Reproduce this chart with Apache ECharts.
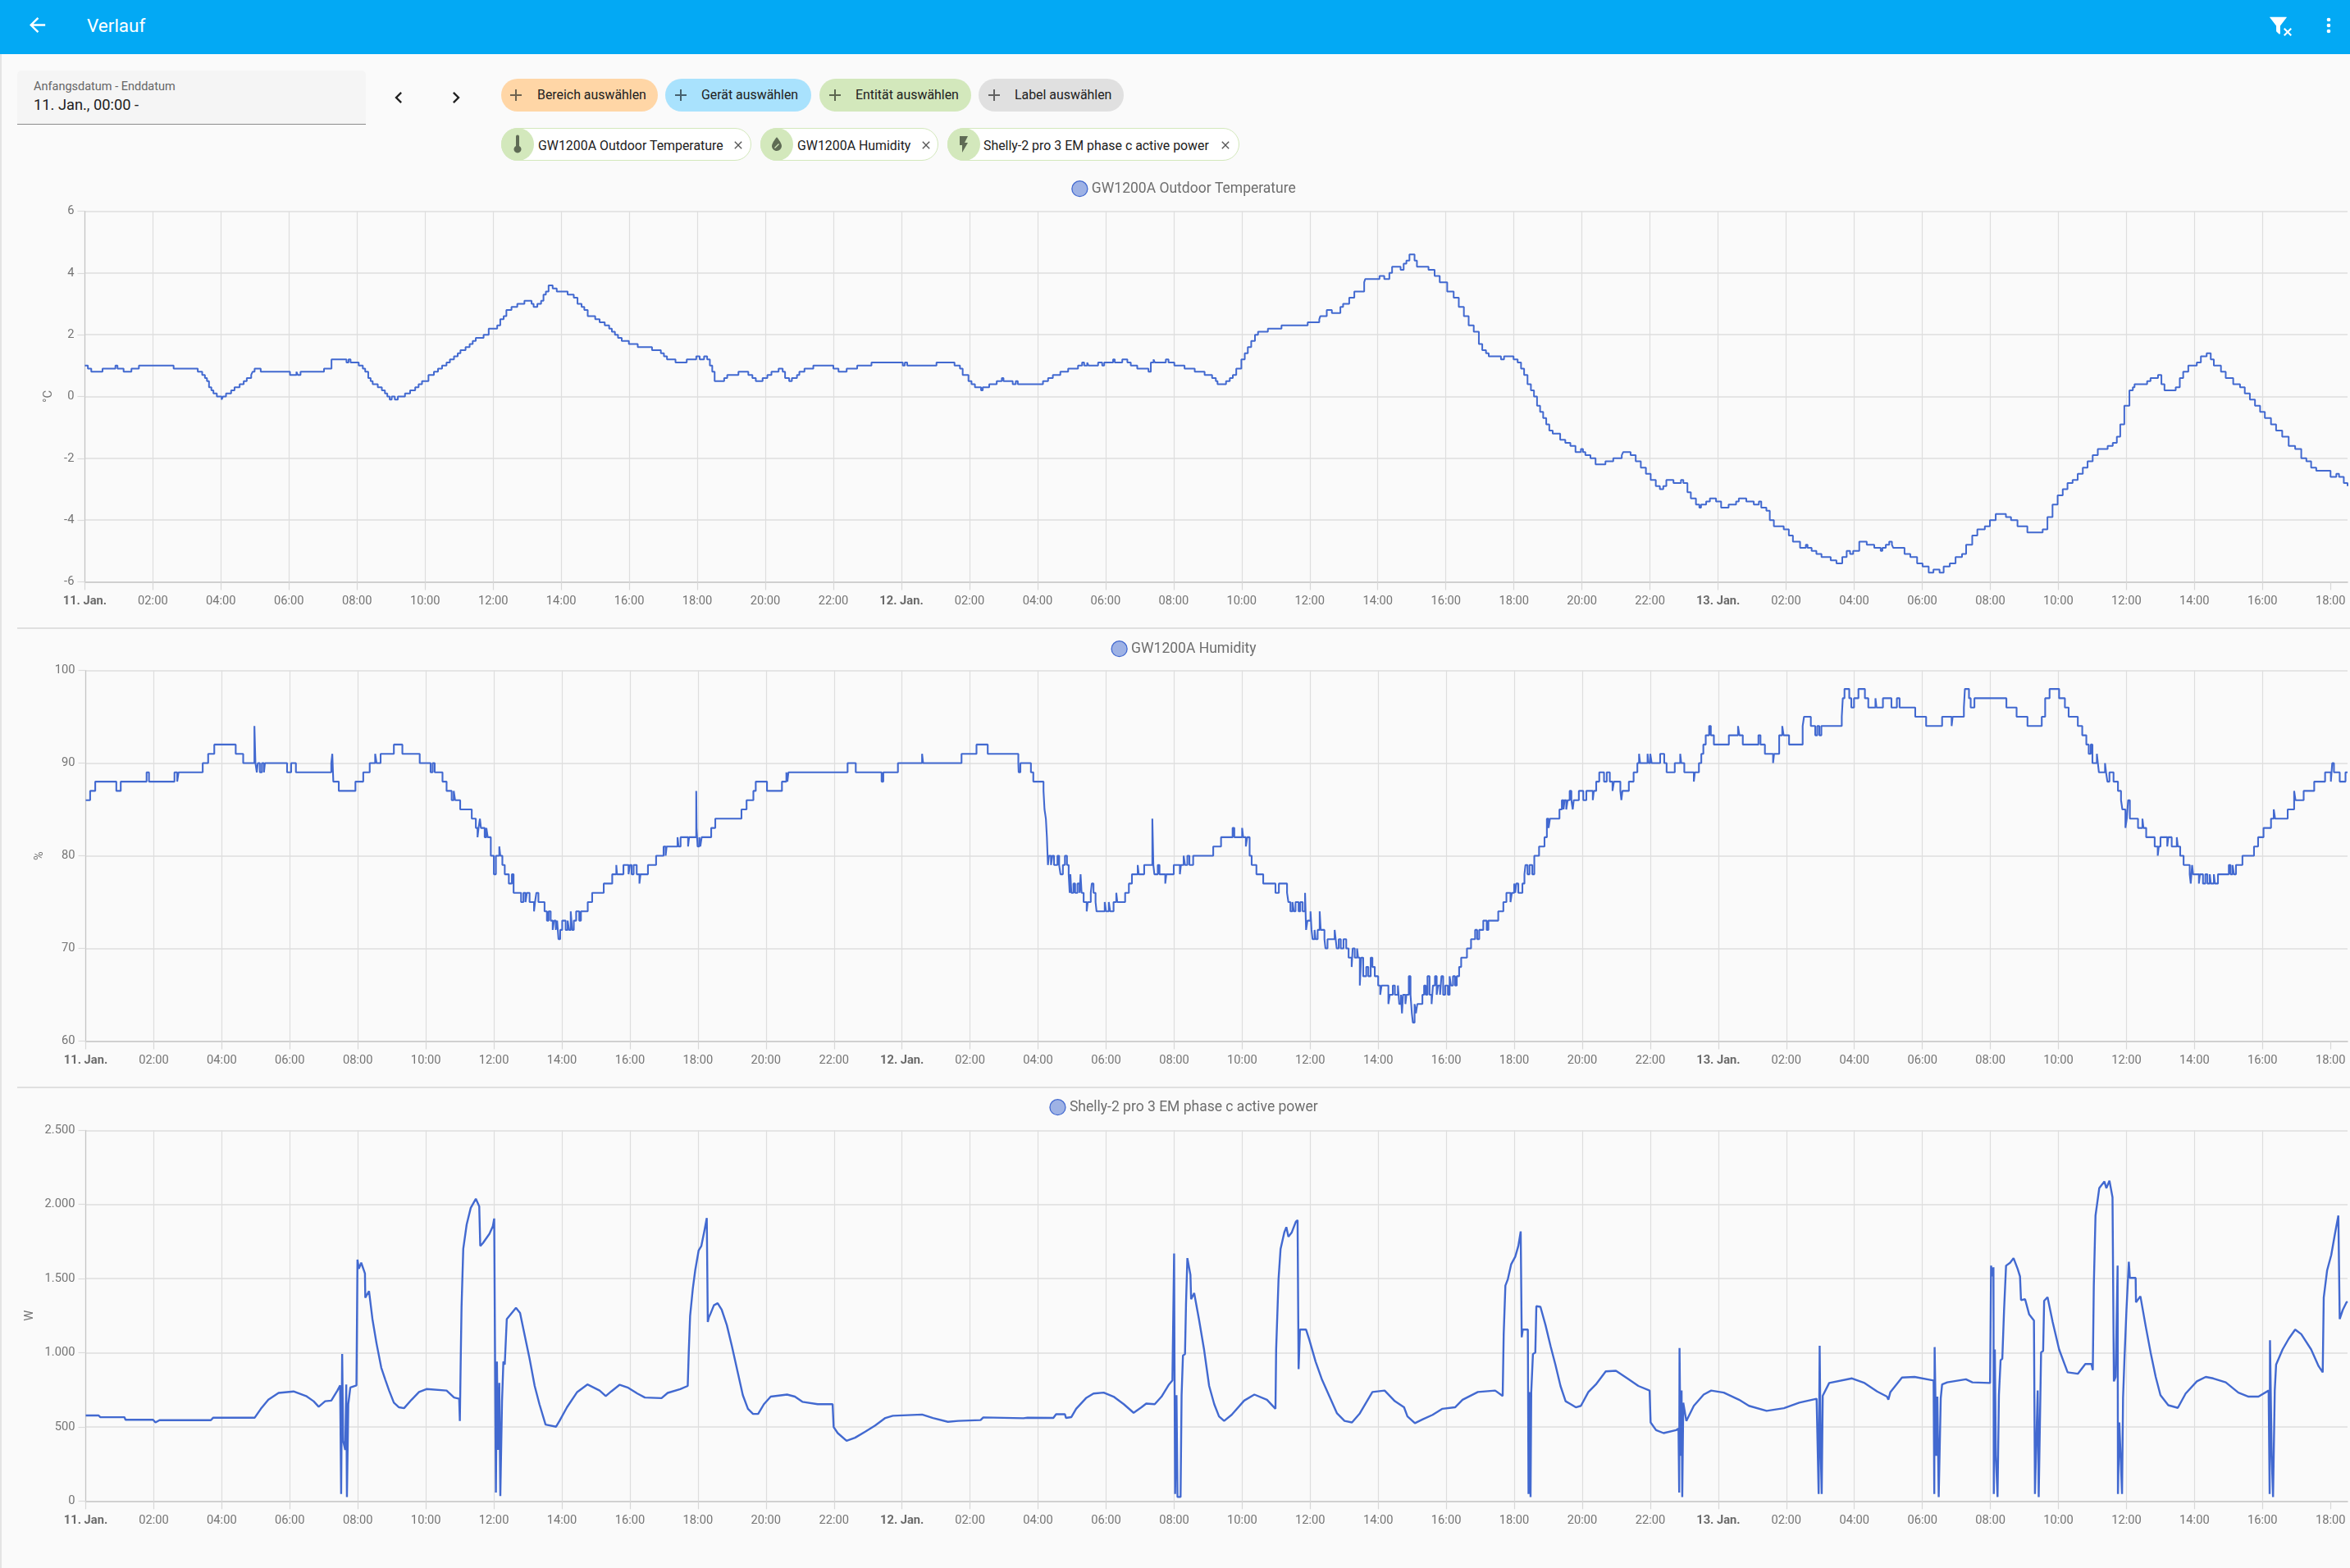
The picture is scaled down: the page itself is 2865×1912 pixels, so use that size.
<!DOCTYPE html>
<html lang="de">
<head>
<meta charset="utf-8">
<title>Verlauf</title>
<script src="https://cdn.jsdelivr.net/npm/echarts@6/dist/echarts.min.js"></script>
<style>
html,body{margin:0;padding:0;width:2865px;height:1912px;background:#fafafa;overflow:hidden;font-family:Roboto,sans-serif;}
.abs{position:absolute;}
#edge{left:0;top:66px;width:1.5px;height:1846px;background:#e4e4e4;}
#bar{left:0;top:0;width:2865px;height:66px;background:#03a9f4;}
#title{left:106px;top:16px;font-size:22.5px;line-height:30px;color:#fff;}
svg{display:block;}
#date{left:21px;top:86px;width:425px;height:65px;background:#f5f5f5;border-bottom:1.5px solid #8c8c8c;border-radius:5px 5px 0 0;}
#dateLabel{left:41px;top:97px;font-size:14.5px;line-height:18px;color:#666;}
#dateValue{left:41px;top:116px;font-size:18.3px;line-height:24px;color:#212121;}
.chip{height:40px;border-radius:20px;box-sizing:border-box;font-size:15.9px;line-height:40px;color:#212121;white-space:nowrap;}
.ent{background:#fff;border:1.5px solid #d3e8bc;line-height:37px;}
.ava{width:40px;height:40px;border-radius:20px;background:#d3e8bc;}
.divider{left:21px;width:2844px;height:2px;background:#e0e0e0;}
#chart{left:21px;top:0;width:2844px;height:1912px;}
</style>
</head>
<body>
<div class="abs" id="edge"></div>
<div class="abs" id="bar"></div>
<svg class="abs" style="left:31px;top:16px" width="29" height="29" viewBox="0 0 24 24"><path fill="#fff" d="M20,11V13H8L13.5,18.5L12.08,19.92L4.16,12L12.08,4.08L13.5,5.5L8,11H20Z"/></svg>
<div class="abs" id="title">Verlauf</div>
<svg class="abs" style="left:2763px;top:17px" width="29" height="29" viewBox="0 0 24 24"><path fill="#fff" d="M14,12V19.5C14,20.2 13.5,20.7 12.9,20.2L10.4,18C10.1,17.8 10,17.5 10,17.2V12L3.5,3.6C3.2,3.2 3.4,3 3.9,3H20.1C20.6,3 20.8,3.2 20.5,3.6L14,12Z"/></svg>
<svg class="abs" style="left:2783px;top:33px" width="12" height="12" viewBox="0 0 24 24"><path fill="#fff" d="M22,5L19,2L12,9L5,2L2,5L9,12L2,19L5,22L12,15L19,22L22,19L15,12Z"/></svg>
<svg class="abs" style="left:2825px;top:17px" width="28" height="28" viewBox="0 0 24 24"><path fill="#fff" d="M12,16A2,2 0 0,1 14,18A2,2 0 0,1 12,20A2,2 0 0,1 10,18A2,2 0 0,1 12,16M12,10A2,2 0 0,1 14,12A2,2 0 0,1 12,14A2,2 0 0,1 10,12A2,2 0 0,1 12,10M12,4A2,2 0 0,1 14,6A2,2 0 0,1 12,8A2,2 0 0,1 10,6A2,2 0 0,1 12,4Z"/></svg>

<div class="abs" id="date"></div>
<div class="abs" id="dateLabel">Anfangsdatum - Enddatum</div>
<div class="abs" id="dateValue">11. Jan., 00:00 -</div>
<svg class="abs" style="left:472px;top:105px" width="28" height="28" viewBox="0 0 24 24"><path fill="#212121" d="M15.41,16.58L10.83,12L15.41,7.41L14,6L8,12L14,18L15.41,16.58Z"/></svg>
<svg class="abs" style="left:542px;top:105px" width="28" height="28" viewBox="0 0 24 24"><path fill="#212121" d="M8.59,16.58L13.17,12L8.59,7.41L10,6L16,12L10,18L8.59,16.58Z"/></svg>

<div class="abs chip" style="left:611px;top:96px;width:191px;background:#ffd6a6"><span class="abs" style="left:44px;top:0">Bereich auswählen</span></div>
<div class="abs chip" style="left:811px;top:96px;width:178px;background:#a9e2fd"><span class="abs" style="left:44px;top:0">Gerät auswählen</span></div>
<div class="abs chip" style="left:999px;top:96px;width:185px;background:#d3e8bc"><span class="abs" style="left:44px;top:0">Entität auswählen</span></div>
<div class="abs chip" style="left:1193px;top:96px;width:177px;background:#e0e0e0"><span class="abs" style="left:44px;top:0">Label auswählen</span></div>
<svg class="abs" style="left:617px;top:104px" width="24" height="24" viewBox="0 0 24 24"><path fill="#6d6250" d="M19,13H13V19H11V13H5V11H11V5H13V11H19V13Z"/></svg>
<svg class="abs" style="left:818px;top:104px" width="24" height="24" viewBox="0 0 24 24"><path fill="#46606d" d="M19,13H13V19H11V13H5V11H11V5H13V11H19V13Z"/></svg>
<svg class="abs" style="left:1006px;top:104px" width="24" height="24" viewBox="0 0 24 24"><path fill="#5c6650" d="M19,13H13V19H11V13H5V11H11V5H13V11H19V13Z"/></svg>
<svg class="abs" style="left:1200px;top:104px" width="24" height="24" viewBox="0 0 24 24"><path fill="#616161" d="M19,13H13V19H11V13H5V11H11V5H13V11H19V13Z"/></svg>

<div class="abs chip ent" style="left:611px;top:156px;width:305px"><span class="abs" style="left:44px;top:1.5px">GW1200A Outdoor Temperature</span></div>
<div class="abs chip ent" style="left:927px;top:156px;width:217px"><span class="abs" style="left:44px;top:1.5px">GW1200A Humidity</span></div>
<div class="abs chip ent" style="left:1155px;top:156px;width:356px"><span class="abs" style="left:43px;top:1.5px">Shelly-2 pro 3 EM phase c active power</span></div>
<div class="abs ava" style="left:611px;top:156px"></div>
<div class="abs ava" style="left:927px;top:156px"></div>
<div class="abs ava" style="left:1155px;top:156px"></div>
<svg class="abs" style="left:619px;top:164px" width="24" height="24" viewBox="0 0 24 24"><path fill="#5f6b55" d="M10,2.5A2,2 0 0,1 14,2.5V14A4.5,4.5 0 1,1 10,14Z"/></svg>
<svg class="abs" style="left:935px;top:164px" width="24" height="24" viewBox="0 0 24 24"><path fill="#5f6b55" d="M12,3.25C12,3.25 6,10 6,14C6,17.32 8.69,20 12,20A6,6 0 0,0 18,14C18,10 12,3.25 12,3.25Z"/><path stroke="#d3e8bc" stroke-width="1.2" d="M9.5,16.5L14.5,11.5"/></svg>
<svg class="abs" style="left:1163px;top:164px" width="24" height="24" viewBox="0 0 24 24"><path fill="#5f6b55" d="M7,2V13H10V22L17,10H13L17,2H7Z"/></svg>
<svg class="abs" style="left:892px;top:169px" width="16" height="16" viewBox="0 0 24 24"><path fill="#555" d="M19,6.41L17.59,5L12,10.59L6.41,5L5,6.41L10.59,12L5,17.59L6.41,19L12,13.41L17.59,19L19,17.59L13.41,12L19,6.41Z"/></svg>
<svg class="abs" style="left:1121px;top:169px" width="16" height="16" viewBox="0 0 24 24"><path fill="#555" d="M19,6.41L17.59,5L12,10.59L6.41,5L5,6.41L10.59,12L5,17.59L6.41,19L12,13.41L17.59,19L19,17.59L13.41,12L19,6.41Z"/></svg>
<svg class="abs" style="left:1486px;top:169px" width="16" height="16" viewBox="0 0 24 24"><path fill="#555" d="M19,6.41L17.59,5L12,10.59L6.41,5L5,6.41L10.59,12L5,17.59L6.41,19L12,13.41L17.59,19L19,17.59L13.41,12L19,6.41Z"/></svg>

<div class="abs divider" style="top:765px"></div>
<div class="abs divider" style="top:1325px"></div>
<div class="abs" id="chart"></div>

<script>
// Names and labels
const seriesNames = ['GW1200A Outdoor Temperature', 'GW1200A Humidity', 'Shelly-2 pro 3 EM phase c active power'];
const unitNames = ['°C', '%', 'W'];
const dayLabels = ['11. Jan.', '12. Jan.', '13. Jan.'];

// Hours since 11 Jan 00:00, value
const temperaturePoints = [
[0,1],[.09,.9],[.19,.8],[.52,.9],[.9,1],[.96,.9],[1.14,.8],[1.37,.9],[1.59,1],[2.61,.9],[3.32,.8],[3.45,.7],[3.53,.6],[3.59,.5],[3.65,.3],[3.72,.2],[3.78,.1],[3.88,0],[4.02,-.1],[4.06,0],[4.15,.1],[4.3,.2],[4.4,.3],[4.55,.4],[4.67,.5],[4.76,.6],[4.89,.7],[4.93,.8],[4.99,.9],[5.17,.8],[6.03,.7],[6.22,.8],[6.26,.7],[6.34,.8],[7.03,.9],[7.25,1.2],[7.69,1.1],[7.75,1.2],[7.81,1.1],[8.05,1],[8.17,.9],[8.24,.8],[8.33,.6],[8.4,.5],[8.46,.4],[8.61,.3],[8.73,.2],[8.82,.1],[8.89,0],[8.96,-.1],[9.02,0],[9.11,-.1],[9.2,0],[9.41,.1],[9.56,.2],[9.71,.3],[9.81,.4],[9.91,.5],[10.1,.7],[10.26,.8],[10.38,.9],[10.5,1],[10.63,1.1],[10.73,1.2],[10.85,1.3],[10.96,1.4],[11.04,1.5],[11.19,1.6],[11.31,1.7],[11.4,1.8],[11.49,1.9],[11.72,2],[11.87,2.2],[12.12,2.3],[12.21,2.5],[12.31,2.6],[12.39,2.8],[12.54,2.9],[12.71,3],[12.92,3.1],[13.13,3],[13.19,2.9],[13.3,3],[13.41,3.1],[13.48,3.3],[13.55,3.4],[13.63,3.6],[13.75,3.5],[13.87,3.4],[14.19,3.3],[14.37,3.2],[14.48,3],[14.6,2.9],[14.68,2.8],[14.78,2.6],[15,2.5],[15.13,2.4],[15.28,2.3],[15.41,2.2],[15.49,2.1],[15.58,2],[15.67,1.9],[15.78,1.8],[15.99,1.7],[16.25,1.6],[16.67,1.5],[16.93,1.4],[17.02,1.3],[17.11,1.2],[17.36,1.1],[17.69,1.2],[17.97,1.3],[18.07,1.2],[18.2,1.3],[18.29,1.2],[18.37,1],[18.44,.8],[18.51,.5],[18.79,.6],[18.88,.7],[19.21,.8],[19.5,.7],[19.62,.6],[19.72,.5],[19.92,.6],[20.06,.7],[20.18,.8],[20.39,.9],[20.51,.8],[20.58,.6],
[20.7,.5],[20.78,.6],[20.93,.7],[21,.8],[21.15,.9],[21.41,1],[22,.9],[22.15,.8],[22.39,.9],[22.7,1],[23.12,1.1],[24.04,1],[24.1,1.1],[24.17,1],[25.03,1.1],[25.56,1],[25.72,.9],[25.8,.7],[25.97,.5],[26.06,.4],[26.16,.3],[26.34,.2],[26.39,.3],[26.58,.4],[26.8,.5],[26.95,.6],[27,.5],[27.27,.4],[27.36,.5],[27.42,.4],[28.16,.5],[28.31,.6],[28.45,.7],[28.67,.8],[28.9,.9],[29.19,1],[29.31,1.1],[29.37,1],[29.46,1.1],[29.5,1],[29.78,1.1],[29.9,1],[29.96,1.1],[30.22,1.2],[30.27,1.1],[30.49,1.2],[30.64,1.1],[30.74,1],[30.93,.9],[31.26,.8],[31.33,1.1],[31.41,1.2],[31.45,1.1],[31.77,1.2],[31.85,1.1],[32.02,1],[32.32,.9],[32.62,.8],[32.91,.7],[33.13,.6],[33.24,.5],[33.29,.4],[33.54,.5],[33.65,.6],[33.74,.7],[33.84,.9],[33.99,1.2],[34.09,1.4],[34.18,1.6],[34.28,1.8],[34.39,2],[34.48,2.1],[34.77,2.2],[35.17,2.3],[35.94,2.4],[36.28,2.5],[36.31,2.6],[36.5,2.8],[36.65,2.7],[36.9,2.9],[36.98,3],[37.16,3.2],[37.31,3.4],[37.6,3.7],[37.63,3.8],[38.05,3.9],[38.19,3.8],[38.34,4],[38.42,4.2],[38.67,4.1],[38.76,4.3],[38.84,4.4],[38.93,4.6],[39.08,4.4],[39.15,4.2],[39.49,4.1],[39.67,3.9],[39.82,3.7],[40.04,3.4],[40.23,3.2],[40.38,2.9],[40.53,2.6],[40.67,2.3],[40.82,2.1],[40.97,1.7],[41.07,1.5],[41.18,1.4],[41.26,1.3],[41.62,1.2],[41.71,1.3],[41.99,1.2],[42.11,1.1],[42.21,.9],[42.3,.7],[42.4,.4],[42.5,.2],[42.59,0],[42.68,-.3],[42.77,-.5],[42.86,-.7],[42.95,-.9],[43.04,-1.1],[43.14,-1.2],[43.36,-1.4],[43.51,-1.5],
[43.66,-1.6],[43.81,-1.8],[43.97,-1.7],[44.03,-1.8],[44.1,-1.9],[44.25,-2],[44.4,-2.2],[44.69,-2.1],[44.92,-2],[45.17,-1.9],[45.21,-1.8],[45.43,-1.9],[45.58,-2.1],[45.73,-2.3],[45.88,-2.5],[46.02,-2.7],[46.17,-2.9],[46.29,-3],[46.39,-2.9],[46.48,-2.7],[46.69,-2.8],[46.91,-2.7],[46.98,-2.8],[47.1,-3.1],[47.2,-3.3],[47.35,-3.5],[47.45,-3.6],[47.5,-3.5],[47.65,-3.4],[47.76,-3.3],[47.94,-3.4],[48.09,-3.6],[48.31,-3.5],[48.53,-3.4],[48.61,-3.3],[48.83,-3.4],[49.05,-3.5],[49.2,-3.4],[49.27,-3.6],[49.42,-3.7],[49.52,-4],[49.64,-4.2],[49.93,-4.3],[50.08,-4.5],[50.2,-4.7],[50.41,-4.9],[50.58,-4.8],[50.63,-4.9],[50.75,-5],[50.89,-5.1],[51.04,-5.2],[51.31,-5.3],[51.48,-5.4],[51.65,-5.2],[51.78,-5],[51.88,-5.1],[51.97,-5],[52.15,-4.7],[52.37,-4.8],[52.59,-4.9],[52.78,-5],[52.83,-4.9],[52.93,-4.8],[53.03,-4.7],[53.11,-4.8],[53.15,-4.9],[53.48,-5.1],[53.65,-5.2],[53.85,-5.4],[54.01,-5.5],[54.19,-5.7],[54.33,-5.6],[54.51,-5.7],[54.63,-5.5],[54.81,-5.4],[54.98,-5.2],[55.17,-5.1],[55.29,-4.8],[55.47,-4.5],[55.62,-4.3],[55.84,-4.2],[55.99,-4],[56.16,-3.8],[56.46,-3.9],[56.61,-4],[56.8,-4.2],[57.09,-4.4],[57.54,-4.3],[57.68,-3.9],[57.83,-3.5],[57.98,-3.2],[58.13,-3],[58.27,-2.8],[58.42,-2.7],[58.57,-2.5],[58.72,-2.3],[58.86,-2.1],[59.01,-1.9],[59.16,-1.7],[59.45,-1.6],[59.6,-1.5],[59.72,-1.3],[59.82,-.9],[59.94,-.3],[60.09,.2],[60.19,.3],[60.24,.4],[60.61,.5],[60.71,.6],[60.93,.7],[61.03,.4],[61.12,.2],[61.45,.3],[61.57,.6],[61.67,.8],[61.82,1],[62.07,1.1],[62.19,1.3],[62.36,1.4],[62.48,1.2],[62.57,1],[62.78,.8],[62.92,.6],[63.14,.4],[63.34,.3],[63.48,.1],[63.63,-.1],[63.78,-.3],[63.93,-.5],[64.07,-.7],[64.25,-.9],[64.4,-1.1],[64.58,-1.3],[64.77,-1.6],[64.96,-1.7],[65.14,-2],[65.29,-2.1],[65.43,-2.3],[65.58,-2.4],[66,-2.6],[66.17,-2.5],[66.25,-2.6],[66.39,-2.8],[66.5,-2.9]
];

const humidityPoints = [
[0,86],[.13,87],[.28,88],[.9,87],[1.03,88],[1.79,89],[1.86,88],[2.61,89],[2.69,88],[2.73,89],[3.44,90],[3.6,91],[3.78,92],[4.41,91],[4.63,90],[4.96,94],[4.99,90],[5.03,89],[5.06,90],[5.12,89],[5.18,90],[5.24,89],[5.27,90],[5.92,89],[6.04,90],[6.18,89],[7.22,90],[7.25,91],[7.28,88],[7.44,87],[7.93,88],[8.16,89],[8.35,90],[8.51,91],[8.55,90],[8.67,91],[9.06,92],[9.31,91],[9.82,90],[10.14,89],[10.2,90],[10.26,89],[10.49,88],[10.61,87],[10.76,86],[10.82,87],[10.86,86],[11.01,85],[11.35,84],[11.47,83],[11.52,82],[11.55,83],[11.59,84],[11.62,83],[11.73,82],[11.78,83],[11.82,82],[11.91,80],[12,78],[12.06,80],[12.16,81],[12.19,80],[12.25,79],[12.32,78],[12.44,77],[12.53,78],[12.58,76],[12.8,75],[12.87,76],[12.93,75],[12.97,76],[13.05,75],[13.18,74],[13.21,75],[13.25,76],[13.31,75],[13.49,74],[13.56,73],[13.61,74],[13.67,73],[13.73,72],[13.77,73],[13.82,72],[13.86,73],[13.9,71],[13.95,72],[14.01,73],[14.11,72],[14.17,73],[14.21,72],[14.26,74],[14.3,72],[14.35,73],[14.42,74],[14.51,73],[14.56,74],[14.76,75],[14.89,76],[15.23,77],[15.48,78],[15.6,79],[15.62,78],[15.81,79],[15.96,78],[16,79],[16.05,78],[16.11,79],[16.2,78],[16.28,77],[16.31,78],[16.53,79],[16.77,80],[16.99,81],[17.05,80],[17.08,81],[17.4,82],[17.43,81],[17.49,82],[17.71,81],[17.74,82],[17.95,87],[17.96,83],[17.99,81],[18.04,82],[18.07,81],[18.11,82],[18.39,83],[18.51,84],[19.28,85],[19.43,86],[19.63,87],[19.7,88],[20.03,87],[20.47,88],[20.6,89],
[20.63,88],[20.66,89],[22.4,90],[22.64,89],[23.4,88],[23.45,89],[23.88,90],[24.59,91],[24.62,90],[25.75,91],[26.19,92],[26.52,91],[27.42,90],[27.43,89],[27.48,90],[27.79,89],[27.86,88],[28.16,87],[28.19,85],[28.23,84],[28.26,82],[28.29,79],[28.32,80],[28.38,79],[28.42,80],[28.47,79],[28.57,80],[28.62,79],[28.66,78],[28.73,79],[28.79,80],[28.85,79],[28.9,78],[28.93,76],[28.95,78],[28.98,76],[29.04,77],[29.09,76],[29.16,77],[29.22,76],[29.25,78],[29.28,76],[29.34,75],[29.43,74],[29.46,75],[29.55,76],[29.58,77],[29.63,76],[29.69,75],[29.72,74],[29.96,75],[30,74],[30.08,75],[30.12,74],[30.22,75],[30.3,76],[30.33,75],[30.56,76],[30.67,77],[30.76,78],[30.93,79],[30.96,78],[31.12,79],[31.36,84],[31.39,79],[31.42,78],[31.52,79],[31.57,78],[31.74,77],[31.77,78],[31.99,79],[32.17,78],[32.2,79],[32.28,80],[32.32,79],[32.39,80],[32.45,79],[32.56,80],[33.15,81],[33.38,82],[33.72,83],[33.77,82],[34,83],[34.03,82],[34.11,81],[34.15,82],[34.22,80],[34.28,79],[34.42,78],[34.62,77],[34.98,76],[35.08,77],[35.32,76],[35.36,75],[35.42,74],[35.48,75],[35.52,74],[35.57,75],[35.66,74],[35.71,75],[35.78,74],[35.85,76],[35.88,72],[35.92,73],[36.01,74],[36.04,72],[36.07,71],[36.13,72],[36.16,71],[36.22,72],[36.28,74],[36.31,72],[36.42,71],[36.45,70],[36.51,71],[36.72,72],[36.75,71],[36.78,70],[36.84,71],[36.9,70],[36.98,71],[37.06,70],[37.13,69],[37.22,68],[37.25,70],[37.31,69],[37.38,70],[37.41,69],[37.46,66],[37.5,69],[37.56,67],[37.65,68],[37.71,67],[37.78,69],[37.83,68],[37.9,67],[38,66],[38.06,65],[38.1,66],[38.3,64],[38.34,65],[38.43,66],[38.49,65],[38.58,66],[38.62,64],[38.67,65],[38.7,63],[38.73,65],[38.8,64],[38.83,65],[38.9,67],[38.95,65],[38.99,63],[39.02,62],[39.07,64],[39.11,63],[39.15,64],[39.3,65],[39.35,66],[39.4,65],[39.45,67],[39.51,65],[39.57,64],[39.61,66],[39.67,67],[39.72,65],[39.76,66],[39.82,65],[39.86,67],[39.91,65],[39.97,66],[40.05,65],[40.1,67],[40.14,66],[40.2,67],[40.26,66],[40.31,67],[40.38,68],[40.44,69],[40.61,70],[40.73,71],[40.85,72],[40.91,71],[40.97,72],[41.09,73],[41.19,72],[41.24,73],[41.53,74],[41.68,75],[41.77,76],[41.89,75],[41.93,76],[42,77],[42.03,76],[42.06,77],[42.12,76],[42.24,77],[42.3,78],[42.33,79],[42.39,78],[42.45,79],[42.53,78],[42.59,80],[42.73,81],[42.89,82],[42.96,84],[43.01,83],[43.05,84],[43.33,85],[43.4,86],
[43.45,85],[43.48,86],[43.53,85],[43.57,86],[43.63,87],[43.68,86],[43.72,85],[43.75,86],[43.9,87],[44.03,86],[44.12,87],[44.31,86],[44.34,87],[44.41,88],[44.5,89],[44.64,88],[44.72,89],[44.81,88],[44.89,87],[44.93,88],[45.12,87],[45.15,86],[45.18,87],[45.37,88],[45.51,89],[45.62,90],[45.67,91],[45.7,90],[45.92,91],[45.95,90],[46,91],[46.04,90],[46.29,91],[46.41,90],[46.48,89],[46.72,90],[46.88,91],[46.91,90],[47,89],[47.28,88],[47.31,89],[47.43,90],[47.5,91],[47.56,92],[47.63,93],[47.73,94],[47.78,93],[47.87,92],[48.31,93],[48.58,94],[48.62,93],[48.72,92],[49.18,93],[49.24,92],[49.37,91],[49.61,90],[49.64,91],[49.79,93],[49.88,94],[49.92,93],[50.08,92],[50.48,94],[50.52,95],[50.72,94],[50.85,93],[50.91,94],[50.97,93],[51.03,94],[51.63,95],[51.66,97],[51.71,98],[51.85,97],[51.91,96],[51.99,97],[52.12,98],[52.31,97],[52.41,96],[52.62,97],[52.65,96],[52.84,97],[53.09,96],[53.25,97],[53.33,96],[53.79,95],[54.11,94],[54.58,95],[54.86,94],[54.89,95],[55.22,96],[55.25,98],[55.37,97],[55.42,96],[55.53,97],[56.47,96],[56.77,95],[57.09,94],[57.51,95],[57.61,97],[57.74,98],[58.02,97],[58.19,96],[58.3,95],[58.57,94],[58.7,93],[58.82,92],[58.89,91],[58.95,92],[59,90],[59.13,91],[59.16,90],[59.19,89],[59.37,90],[59.4,89],[59.44,88],[59.5,89],[59.62,88],[59.75,87],[59.84,86],[59.88,85],[59.97,83],[60.01,84],[60.05,86],[60.1,84],[60.34,83],[60.47,84],[60.5,83],[60.58,82],[60.83,81],[60.92,80],[60.95,81],[61,82],[61.2,81],[61.23,82],[61.33,81],[61.48,82],[61.51,81],[61.58,80],[61.68,79],[61.86,78],[61.89,77],[61.93,79],[61.96,78],[62.13,77],[62.16,78],[62.25,77],[62.32,78],[62.38,77],[62.45,78],[62.48,77],[62.57,78],[62.6,77],[62.69,78],[63.01,79],[63.06,78],[63.12,79],[63.16,78],[63.22,79],[63.41,80],[63.75,81],[63.87,82],[64.03,83],[64.25,84],[64.33,85],[64.37,84],[64.74,85],[64.93,87],[64.97,86],[65.21,87],[65.52,88],[65.84,89],[66.01,88],[66.05,90],[66.1,89],[66.27,88],[66.44,89],[66.5,89]
];

const powerPoints = [
[0,577],[.38,577],[.43,565],[1.14,565],[1.17,548],[1.98,548],[2.05,530],[2.17,545],[3.68,545],[3.75,562],[4.97,562],[5.15,622],[5.37,683],[5.67,729],[6.11,739],[6.48,708],[6.7,673],[6.85,636],[7.04,673],[7.22,677],[7.4,745],[7.48,780],[7.51,47],[7.54,991],[7.57,406],[7.63,345],[7.66,786],[7.68,27],[7.72,653],[7.78,766],[7.96,780],[7.99,1628],[8.03,1566],[8.1,1607],[8.21,1535],[8.22,1371],[8.33,1416],[8.43,1227],[8.55,1063],[8.69,899],[8.81,817],[8.92,745],[9.06,663],[9.21,632],[9.36,626],[9.58,683],[9.8,735],[10.02,755],[10.61,745],[10.83,698],[10.98,690],[11,540],[11.03,1022],[11.05,1310],[11.1,1700],[11.2,1864],[11.32,1977],[11.47,2038],[11.57,1987],[11.6,1720],[11.68,1740],[11.87,1802],[11.97,1853],[12.01,1905],[12.03,1145],[12.06,57],[12.09,940],[12.12,345],[12.16,796],[12.19,33],[12.24,673],[12.28,940],[12.32,920],[12.38,1227],[12.65,1303],[12.77,1268],[12.9,1125],[13.05,960],[13.2,776],[13.34,653],[13.52,515],[13.83,501],[13.93,540],[14.15,632],[14.45,735],[14.75,786],[15.11,745],[15.29,708],[15.45,739],[15.7,784],[15.93,766],[16.22,725],[16.44,698],[16.93,694],[17.11,729],[17.48,755],[17.7,776],[17.73,1002],[17.77,1248],[17.85,1433],[17.92,1556],[18.02,1689],[18.1,1720],[18.19,1823],[18.26,1909],[18.29,1207],[18.32,1238],[18.36,1258],[18.47,1320],[18.58,1334],[18.7,1289],[18.85,1186],[19,1043],[19.18,858],[19.32,714],[19.47,622],[19.62,587],[19.77,587],[19.94,653],[20.14,704],[20.62,718],
[20.85,704],[21.07,669],[21.52,653],[21.96,653],[21.99,499],[22.11,458],[22.37,406],[22.62,427],[22.92,468],[23.21,509],[23.51,560],[23.73,575],[24.59,583],[24.91,560],[25.35,534],[25.65,540],[26.31,546],[26.39,564],[27.57,558],[27.69,562],[28.45,560],[28.53,585],[28.79,585],[28.82,560],[28.98,566],[29.12,622],[29.41,694],[29.63,725],[29.93,731],[30.22,704],[30.52,653],[30.81,595],[31.04,632],[31.18,657],[31.43,653],[31.63,704],[31.85,786],[31.95,813],[32,1669],[32.01,1002],[32.03,47],[32.07,714],[32.1,27],[32.19,27],[32.22,714],[32.26,981],[32.32,991],[32.35,1330],[32.39,1638],[32.48,1525],[32.5,1361],[32.59,1402],[32.73,1227],[32.88,1022],[33.03,776],[33.18,653],[33.32,571],[33.47,540],[33.69,581],[34.06,677],[34.36,718],[34.73,683],[34.98,622],[35,1022],[35.07,1494],[35.13,1700],[35.24,1812],[35.3,1847],[35.36,1782],[35.46,1812],[35.58,1884],[35.63,1894],[35.66,889],[35.7,1156],[35.88,1156],[35.98,1084],[36.16,940],[36.35,817],[36.57,704],[36.79,591],[37.01,540],[37.23,530],[37.46,591],[37.83,735],[38.19,745],[38.49,673],[38.76,632],[38.86,571],[39.08,525],[39.3,550],[39.6,581],[39.89,622],[40.26,632],[40.48,683],[40.93,735],[41.44,745],[41.66,708],[41.69,1125],[41.74,1453],[41.81,1494],[41.91,1597],[42.03,1648],[42.12,1720],[42.19,1818],[42.22,1104],[42.25,1156],[42.4,1156],[42.42,47],[42.45,735],[42.48,27],[42.5,735],[42.55,991],[42.62,1002],[42.65,1314],[42.77,1310],[42.92,1186],[43.07,1043],[43.21,920],[43.36,776],[43.51,673],
[43.66,653],[43.81,632],[43.96,642],[44.18,735],[44.4,786],[44.69,874],[44.99,878],[45.36,821],[45.65,776],[45.98,745],[46.01,530],[46.17,478],[46.39,458],[46.76,478],[46.83,488],[46.85,57],[46.86,1032],[46.89,304],[46.92,745],[46.94,27],[46.97,663],[47.06,540],[47.28,642],[47.57,718],[47.79,745],[48.16,731],[48.61,683],[48.9,642],[49.42,608],[49.93,626],[50.38,663],[50.89,690],[50.95,47],[50.98,1047],[51.01,345],[51.04,47],[51.07,710],[51.26,796],[51.93,827],[52.3,796],[52.67,739],[52.96,704],[53,683],[53.06,735],[53.4,833],[53.77,837],[54.33,813],[54.35,47],[54.36,1038],[54.41,304],[54.44,704],[54.48,27],[54.54,694],[54.58,786],[54.73,800],[55.28,821],[55.47,800],[55.99,796],[56.02,1587],[56.06,1515],[56.09,1576],[56.1,47],[56.13,1022],[56.16,304],[56.21,27],[56.25,714],[56.3,950],[56.35,960],[56.4,1279],[56.46,1587],[56.58,1607],[56.68,1638],[56.8,1566],[56.87,1515],[56.9,1355],[57.02,1361],[57.14,1258],[57.28,1217],[57.31,47],[57.39,745],[57.42,27],[57.49,1002],[57.55,1012],[57.58,1350],[57.68,1375],[57.83,1207],[58.02,1022],[58.27,868],[58.57,858],[58.79,924],[58.97,924],[59.01,883],[59.04,1453],[59.09,1925],[59.2,2110],[59.35,2155],[59.41,2110],[59.5,2161],[59.59,2048],[59.63,807],[59.68,837],[59.74,1587],[59.75,47],[59.79,530],[59.87,47],[59.9,694],[59.94,950],[60,1289],[60.07,1613],[60.1,1505],[60.27,1505],[60.28,1340],[60.41,1381],[60.56,1186],[60.71,1002],[60.86,837],[61,714],[61.23,646],[61.51,628],[61.74,725],[62.07,807],[62.33,837],[62.55,827],[62.92,800],[63.29,731],[63.59,704],[63.88,704],[64.18,745],[64.21,47],[64.22,1084],[64.27,304],[64.31,27],[64.36,745],[64.4,920],[64.59,1022],[64.77,1094],[64.96,1156],[65.14,1125],[65.43,1022],[65.65,909],[65.77,868],[65.8,1371],[65.9,1556],[66.02,1658],[66.13,1802],[66.23,1925],[66.27,1227],[66.36,1289],[66.47,1340],[66.5,1345]
];

// Axis scales
const xMax = 66.5;
const xTicks = [];
for (let h = 0; h <= 66; h += 2) xTicks.push(h);
const yRanges = [[-6, 6, 2], [60, 100, 10], [0, 2500, 500]];

const lineColor = '#4269d0';
const labelColor = '#757575';

function xLabel(h) {
  if (h % 24 === 0) return '{day|' + dayLabels[h / 24] + '}';
  const hh = h % 24;
  return (hh < 10 ? '0' : '') + hh + ':00';
}
function yLabel(v) {
  return v >= 1000 ? String(v).replace(/(\d)(\d{3})$/, '$1.$2') : String(v);
}

const gridTops = [257.5, 817.5, 1378.3];
const gridLefts = [82.4, 83.5, 83.5];
const legendTops = [215, 776, 1335];
const nameGaps = [28, 44, 56];
const lineWidths = [2, 2.1, 2.4];

const option = {
  animation: false,
  backgroundColor: 'transparent',
  textStyle: { fontFamily: 'Roboto, sans-serif' },
  legend: seriesNames.map((n, i) => ({
    data: [n], left: 'center', top: legendTops[i], icon: 'circle', itemWidth: 19, itemHeight: 19, itemGap: 10,
    textStyle: { color: '#6e6e6e', fontSize: 17.5, fontFamily: 'Roboto, sans-serif' },
    itemStyle: { color: 'rgba(66,105,208,0.5)', borderColor: lineColor, borderWidth: 1.3 }
  })),
  grid: gridTops.map((t, i) => ({ left: gridLefts[i], right: 3, top: t, height: 452, outerBoundsMode: 'none' })),
  xAxis: gridTops.map((t, i) => ({
    type: 'value', gridIndex: i, min: 0, max: xMax, interval: 2,
    axisLine: { show: true, onZero: false, lineStyle: { color: '#c9c9c9', width: 1.6 } },
    axisTick: { show: true, length: 10, customValues: xTicks, lineStyle: { color: '#d8d8d8', width: 1.2 } },
    splitLine: { show: true, showMaxLine: false, lineStyle: { color: '#dedede', width: 1.2 } },
    axisLabel: {
      customValues: xTicks, formatter: xLabel, color: labelColor, fontSize: 14.7, margin: 16.5,
      rich: { day: { fontWeight: 'bold', color: '#6a6a6a', fontSize: 14.7, fontFamily: 'Roboto, sans-serif' } }
    }
  })),
  yAxis: yRanges.map((r, i) => ({
    type: 'value', gridIndex: i, min: r[0], max: r[1], interval: r[2],
    name: unitNames[i], nameLocation: 'middle', nameGap: nameGaps[i],
    nameTextStyle: { color: labelColor, fontSize: 14.7 },
    axisLine: { show: true, onZero: false, lineStyle: { color: '#c4c4c4', width: 1.2 } },
    axisTick: { show: true, length: 9, lineStyle: { color: '#dcdcdc', width: 1.2 } },
    splitLine: { show: true, lineStyle: { color: '#dedede', width: 1.5 } },
    axisLabel: { formatter: yLabel, color: labelColor, fontSize: 14.7, margin: 13 }
  })),
  series: [temperaturePoints, humidityPoints, powerPoints].map((pts, i) => ({
    name: seriesNames[i], type: 'line', xAxisIndex: i, yAxisIndex: i, step: i < 2 ? 'end' : false, showSymbol: false,
    data: pts, lineStyle: { color: lineColor, width: lineWidths[i] }, itemStyle: { color: lineColor }
  }))
};
echarts.init(document.getElementById('chart')).setOption(option);
</script>
</body>
</html>
